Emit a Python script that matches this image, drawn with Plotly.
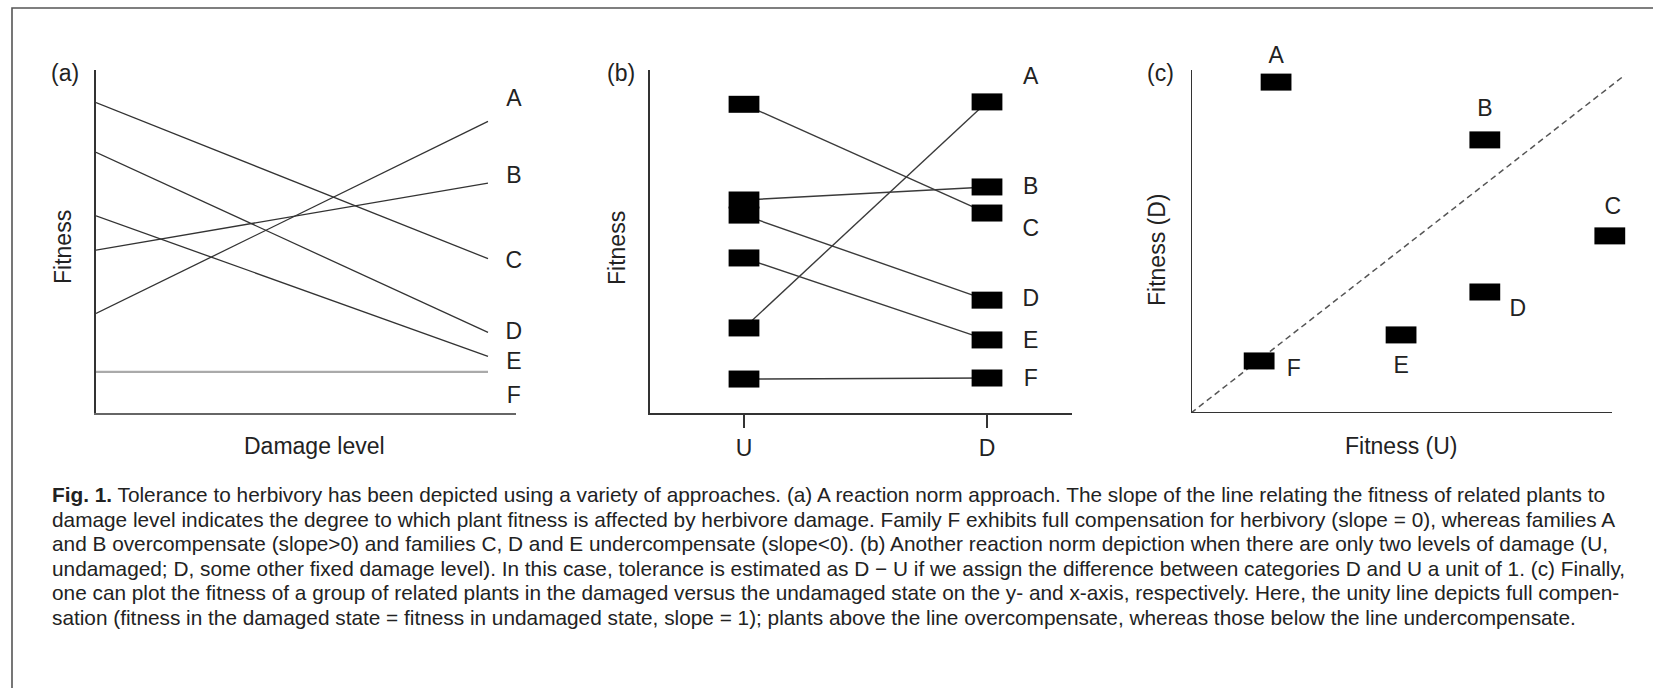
import plotly.graph_objects as go

W, H = 1653, 688

# ---------------- data ----------------
families = ["A", "B", "C", "D", "E", "F"]

# panel (a): fitness at no damage (start) and at full damage (end)
a_start = [2.90, 4.75, 9.05, 7.60, 5.75, 1.20]
a_end = [8.50, 6.70, 4.50, 2.35, 1.65, 1.20]

# panel (b): fitness undamaged (U) and damaged (D)
b_levels = ["U", "D"]
b_u = [2.48, 6.21, 9.00, 5.77, 4.52, 0.99]
b_d = [9.07, 6.59, 5.83, 3.29, 2.13, 1.02]

# panel (c): fitness (U) vs fitness (D)
c_u = [0.196, 0.677, 0.965, 0.677, 0.484, 0.157]
c_d = [0.979, 0.808, 0.524, 0.358, 0.231, 0.154]

caption_lines = [
    "<b>Fig. 1.</b> Tolerance to herbivory has been depicted using a variety of approaches. (a) A reaction norm approach. The slope of the line relating the fitness of related plants to",
    "damage level indicates the degree to which plant fitness is affected by herbivore damage. Family F exhibits full compensation for herbivory (slope = 0), whereas families A",
    "and B overcompensate (slope&gt;0) and families C, D and E undercompensate (slope&lt;0). (b) Another reaction norm depiction when there are only two levels of damage (U,",
    "undamaged; D, some other fixed damage level). In this case, tolerance is estimated as D − U if we assign the difference between categories D and U a unit of 1. (c) Finally,",
    "one can plot the fitness of a group of related plants in the damaged versus the undamaged state on the y- and x-axis, respectively. Here, the unity line depicts full compen-",
    "sation (fitness in the damaged state = fitness in undamaged state, slope = 1); plants above the line overcompensate, whereas those below the line undercompensate.",
]

# ---------------- styling / layout helpers ----------------
FONT = "Liberation Sans, Arial, sans-serif"
TXT = "#222222"
AX = "#333333"

def dx(p0, p1):
    return [p0 / W, p1 / W]

def dy(top, bottom):
    return [1 - bottom / H, 1 - top / H]

fig = go.Figure()

# ---- panel (a) ----
for i, f in enumerate(families):
    flat = a_start[i] == a_end[i]
    fig.add_trace(go.Scatter(
        x=[0, 1], y=[a_start[i], a_end[i]], mode="lines",
        line=dict(color="#aaaaaa" if flat else "#333333", width=2.2 if flat else 1.3),
        xaxis="x", yaxis="y", showlegend=False, hoverinfo="skip"))

# label positions (layout) for panel (a)
a_lab_y = [9.13, 6.88, 4.40, 2.33, 1.46, 0.47]
fig.add_trace(go.Scatter(
    x=[1.066] * 6, y=a_lab_y, mode="text", text=families,
    textfont=dict(family=FONT, size=23, color=TXT),
    xaxis="x", yaxis="y", showlegend=False, hoverinfo="skip", cliponaxis=False))

# ---- panel (b) ----
for i, f in enumerate(families):
    fig.add_trace(go.Scatter(
        x=[0, 1], y=[b_u[i], b_d[i]], mode="lines",
        line=dict(color="#3a3a3a", width=1.4),
        xaxis="x2", yaxis="y2", showlegend=False, hoverinfo="skip"))
fig.add_trace(go.Scatter(
    x=[0] * 6 + [1] * 6, y=b_u + b_d, mode="markers",
    marker=dict(symbol="line-ew", size=22, line=dict(color="black", width=17)),
    xaxis="x2", yaxis="y2", showlegend=False, hoverinfo="skip", cliponaxis=False))
b_lab_y = [9.77, 6.56, 5.34, 3.29, 2.07, 0.96]
fig.add_trace(go.Scatter(
    x=[1.18] * 6, y=b_lab_y, mode="text", text=families,
    textfont=dict(family=FONT, size=23, color=TXT),
    xaxis="x2", yaxis="y2", showlegend=False, hoverinfo="skip", cliponaxis=False))

# ---- panel (c) ----
C_YTOP = 343 / 338  # top of drawn y-axis line in data units
fig.add_trace(go.Scatter(
    x=[0, 1.0], y=[0, 1.0], mode="lines",
    line=dict(color="#555555", width=1.5, dash="6px,4px"),
    xaxis="x3", yaxis="y3", showlegend=False, hoverinfo="skip"))
fig.add_trace(go.Scatter(
    x=c_u, y=c_d, mode="markers",
    marker=dict(symbol="line-ew", size=22, line=dict(color="black", width=17)),
    xaxis="x3", yaxis="y3", showlegend=False, hoverinfo="skip", cliponaxis=False))
c_lab_x = [0.196, 0.677, 0.972, 0.753, 0.484, 0.237]
c_lab_y = [1.053, 0.896, 0.607, 0.305, 0.136, 0.127]
fig.add_trace(go.Scatter(
    x=c_lab_x, y=c_lab_y, mode="text", text=families,
    textfont=dict(family=FONT, size=23, color=TXT),
    xaxis="x3", yaxis="y3", showlegend=False, hoverinfo="skip", cliponaxis=False))

base_y = dict(showgrid=False, zeroline=False, showticklabels=False, ticks="",
              fixedrange=True)
base_x = dict(showgrid=False, zeroline=False, fixedrange=True)

fig.update_layout(
    width=W, height=H,
    margin=dict(l=0, r=0, t=0, b=0),
    paper_bgcolor="white", plot_bgcolor="rgba(0,0,0,0)",
    font=dict(family=FONT, color=TXT),
    xaxis=dict(**base_x, domain=dx(96, 516), anchor="y", range=[0, 420 / 392],
               showline=True, linecolor="#666666", linewidth=2,
               showticklabels=False, ticks=""),
    yaxis=dict(**base_y, domain=dy(70, 413), anchor="x", range=[0, 10],
               showline=True, linecolor=AX, linewidth=2),
    xaxis2=dict(**base_x, domain=dx(650, 1072), anchor="y2",
                range=[(650 - 744) / 243, (1072 - 744) / 243],
                showline=True, linecolor=AX, linewidth=2,
                tickmode="array", tickvals=[0, 1], ticktext=b_levels,
                ticks="outside", ticklen=13, tickwidth=2, tickcolor=AX,
                tickfont=dict(family=FONT, size=23, color=TXT)),
    yaxis2=dict(**base_y, domain=dy(70, 413), anchor="x2", range=[0, 10],
                showline=True, linecolor=AX, linewidth=2),
    xaxis3=dict(**base_x, domain=dx(1191, 1625), anchor="y3", range=[0, 1.0],
                showline=False, showticklabels=False, ticks=""),
    yaxis3=dict(**base_y, domain=dy(40, 413), anchor="x3",
                range=[0, (413 - 40) / 338], showline=False),
)

# axis lines of panel (c) (shorter than its plotting area)
fig.add_shape(type="line", xref="x3", yref="y3", x0=0, x1=(1612 - 1191) / 434,
              y0=0, y1=0, line=dict(color=AX, width=2))
fig.add_shape(type="line", xref="x3", yref="y3", x0=0, x1=0,
              y0=0, y1=C_YTOP, line=dict(color=AX, width=2))

# outer frame
fig.add_shape(type="rect", xref="paper", yref="paper",
              x0=12 / W, x1=1.02, y0=-0.02, y1=1 - 8 / H,
              line=dict(color="#555555", width=1.6), layer="below")

def ann(text, x, y, size=23, angle=0, xanchor="center"):
    fig.add_annotation(text=text, x=x / W, y=1 - y / H, xref="paper", yref="paper",
                       showarrow=False, textangle=angle, xanchor=xanchor,
                       yanchor="middle", font=dict(family=FONT, size=size, color=TXT))

ann("(a)", 65, 73)
ann("(b)", 621, 73)
ann("(c)", 1160, 73)
ann("Fitness", 63, 247, angle=-90)
ann("Fitness", 617, 248, angle=-90)
ann("Fitness (D)", 1157, 250, angle=-90)
ann("Damage level", 314, 446)
ann("Fitness (U)", 1401, 446)

for i, line in enumerate(caption_lines):
    ann(line, 50, 495 + i * 24.4, size=20.8, xanchor="left")

fig.write_html("out.html")
